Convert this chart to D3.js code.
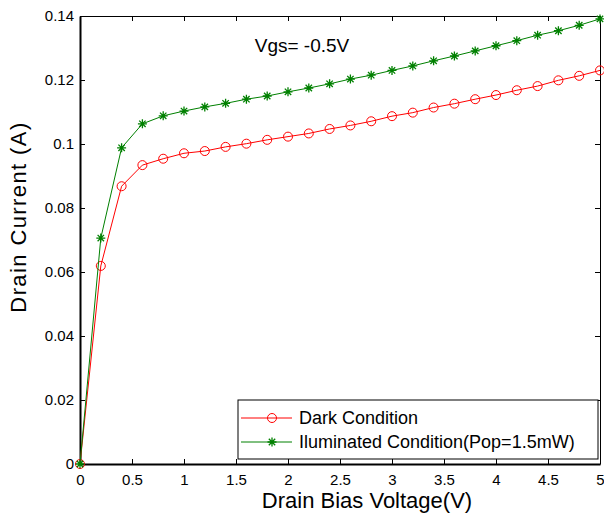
<!DOCTYPE html>
<html>
<head>
<meta charset="utf-8">
<script src="https://cdn.jsdelivr.net/npm/d3@7"></script>
<style>
  body { margin: 0; background: #fff; }
  text { font-family: "Liberation Sans", Arial, sans-serif; fill: #000; }
</style>
</head>
<body>
<svg id="chart"></svg>
<script>
// drain bias voltage (V)
const voltage = [0, 0.2, 0.4, 0.6, 0.8, 1.0, 1.2, 1.4, 1.6, 1.8, 2.0, 2.2, 2.4, 2.6,
                 2.8, 3.0, 3.2, 3.4, 3.6, 3.8, 4.0, 4.2, 4.4, 4.6, 4.8, 5.0];
// drain current (A)
const darkCurrent = [0, 0.0619, 0.0868, 0.0934, 0.0954, 0.0971, 0.0978, 0.0991, 0.1001, 0.1013,
                     0.1023, 0.1033, 0.1047, 0.1058, 0.1071, 0.1087, 0.1098, 0.1114, 0.1126,
                     0.1140, 0.1153, 0.1168, 0.1181, 0.1199, 0.1213, 0.1230];
const litCurrent = [0, 0.0706, 0.0988, 0.1063, 0.1088, 0.1103, 0.1116, 0.1127, 0.1140, 0.1150,
                    0.1163, 0.1175, 0.1188, 0.1203, 0.1215, 0.1230, 0.1244, 0.1260, 0.1275,
                    0.1291, 0.1307, 0.1323, 0.1340, 0.1354, 0.1371, 0.1391];
const xTicks = [0, 0.5, 1, 1.5, 2, 2.5, 3, 3.5, 4, 4.5, 5];
const yTicks = [0, 0.02, 0.04, 0.06, 0.08, 0.1, 0.12, 0.14];
const seriesNames = ["Dark Condition", "Iluminated Condition(Pop=1.5mW)"];
const annotation = "Vgs= -0.5V";

const width = 604, height = 521;
const margin = { top: 16, right: 4, bottom: 57, left: 80 };
const w = width - margin.left - margin.right;
const h = height - margin.top - margin.bottom;

const svg = d3.select("#chart").attr("width", width).attr("height", height);
const chart = svg.append("g").attr("transform", `translate(${margin.left},${margin.top})`);

const xScale = d3.scaleLinear().domain([0, 5]).range([0, w]);
const yScale = d3.scaleLinear().domain([0, 0.14]).range([h, 0]);

const fmt = d => d === 0 ? "0" : String(+d.toFixed(2));

// axes, ticks pointing inward (matlab style box)
const xAxis = d3.axisBottom(xScale).tickValues(xTicks).tickFormat(fmt).tickSizeInner(-5).tickSizeOuter(0).tickPadding(10);
const yAxis = d3.axisLeft(yScale).tickValues(yTicks).tickFormat(fmt).tickSizeInner(-5).tickSizeOuter(0).tickPadding(6);
const xTop = d3.axisTop(xScale).tickValues(xTicks).tickFormat("").tickSizeInner(-5).tickSizeOuter(0);
const yRight = d3.axisRight(yScale).tickValues(yTicks).tickFormat("").tickSizeInner(-5).tickSizeOuter(0);

chart.append("g").attr("transform", `translate(0,${h})`).call(xAxis)
  .call(g => g.selectAll("text").style("font-size", "15px"))
  .call(g => g.select(".domain").attr("stroke-width", 2));
chart.append("g").call(yAxis)
  .call(g => g.selectAll("text").style("font-size", "15px"))
  .call(g => g.select(".domain").attr("stroke-width", 2));
chart.append("g").call(xTop);
chart.append("g").attr("transform", `translate(${w},0)`).call(yRight);

// axis titles
svg.append("text")
  .attr("x", 367).attr("y", 508)
  .attr("text-anchor", "middle").style("font-size", "22px")
  .text("Drain Bias Voltage(V)");
svg.append("text")
  .attr("transform", "translate(26,217) rotate(-90)")
  .attr("text-anchor", "middle").style("font-size", "22px")
  .style("letter-spacing", "1.4px")
  .text("Drain Current (A)");

// annotation
chart.append("text")
  .attr("x", xScale(1.68)).attr("y", yScale(0.1288))
  .style("font-size", "19px")
  .text(annotation);

const line = d3.line().x((d, i) => xScale(voltage[i])).y(d => yScale(d));

function drawStar(g, x, y) {
  // matlab "*" marker = plus + cross
  const s = 4.5, t = 3.2;
  g.append("path")
    .attr("d", `M${x - s},${y}L${x + s},${y}M${x},${y - s}L${x},${y + s}` +
               `M${x - t},${y - t}L${x + t},${y + t}M${x - t},${y + t}L${x + t},${y - t}`)
    .attr("stroke", "#008000").attr("stroke-width", 1.3).attr("fill", "none");
}

// dark series
chart.append("path").datum(darkCurrent)
  .attr("d", line).attr("fill", "none").attr("stroke", "#ff0000").attr("stroke-width", 1);
chart.selectAll(".dark-pt").data(darkCurrent).join("circle")
  .attr("class", "dark-pt")
  .attr("cx", (d, i) => xScale(voltage[i])).attr("cy", d => yScale(d))
  .attr("r", 4.5).attr("fill", "none").attr("stroke", "#ff0000").attr("stroke-width", 1);

// illuminated series
chart.append("path").datum(litCurrent)
  .attr("d", line).attr("fill", "none").attr("stroke", "#008000").attr("stroke-width", 1);
const litG = chart.append("g");
litCurrent.forEach((d, i) => drawStar(litG, xScale(voltage[i]), yScale(d)));

// legend
const legend = svg.append("g").attr("transform", "translate(238,400)");
legend.append("rect").attr("width", 360).attr("height", 59)
  .attr("fill", "#fff").attr("stroke", "#000").attr("stroke-width", 1);
legend.append("line").attr("x1", 3).attr("x2", 54).attr("y1", 18).attr("y2", 18)
  .attr("stroke", "#ff0000");
legend.append("circle").attr("cx", 34).attr("cy", 18).attr("r", 4.5)
  .attr("fill", "none").attr("stroke", "#ff0000");
legend.append("line").attr("x1", 3).attr("x2", 54).attr("y1", 42).attr("y2", 42)
  .attr("stroke", "#008000");
drawStar(legend, 34, 42);
legend.selectAll(".lbl").data(seriesNames).join("text")
  .attr("class", "lbl")
  .attr("x", 61).attr("y", (d, i) => 18 + i * 24).attr("dy", "0.36em")
  .style("font-size", "18px")
  .text(d => d);
</script>
</body>
</html>
